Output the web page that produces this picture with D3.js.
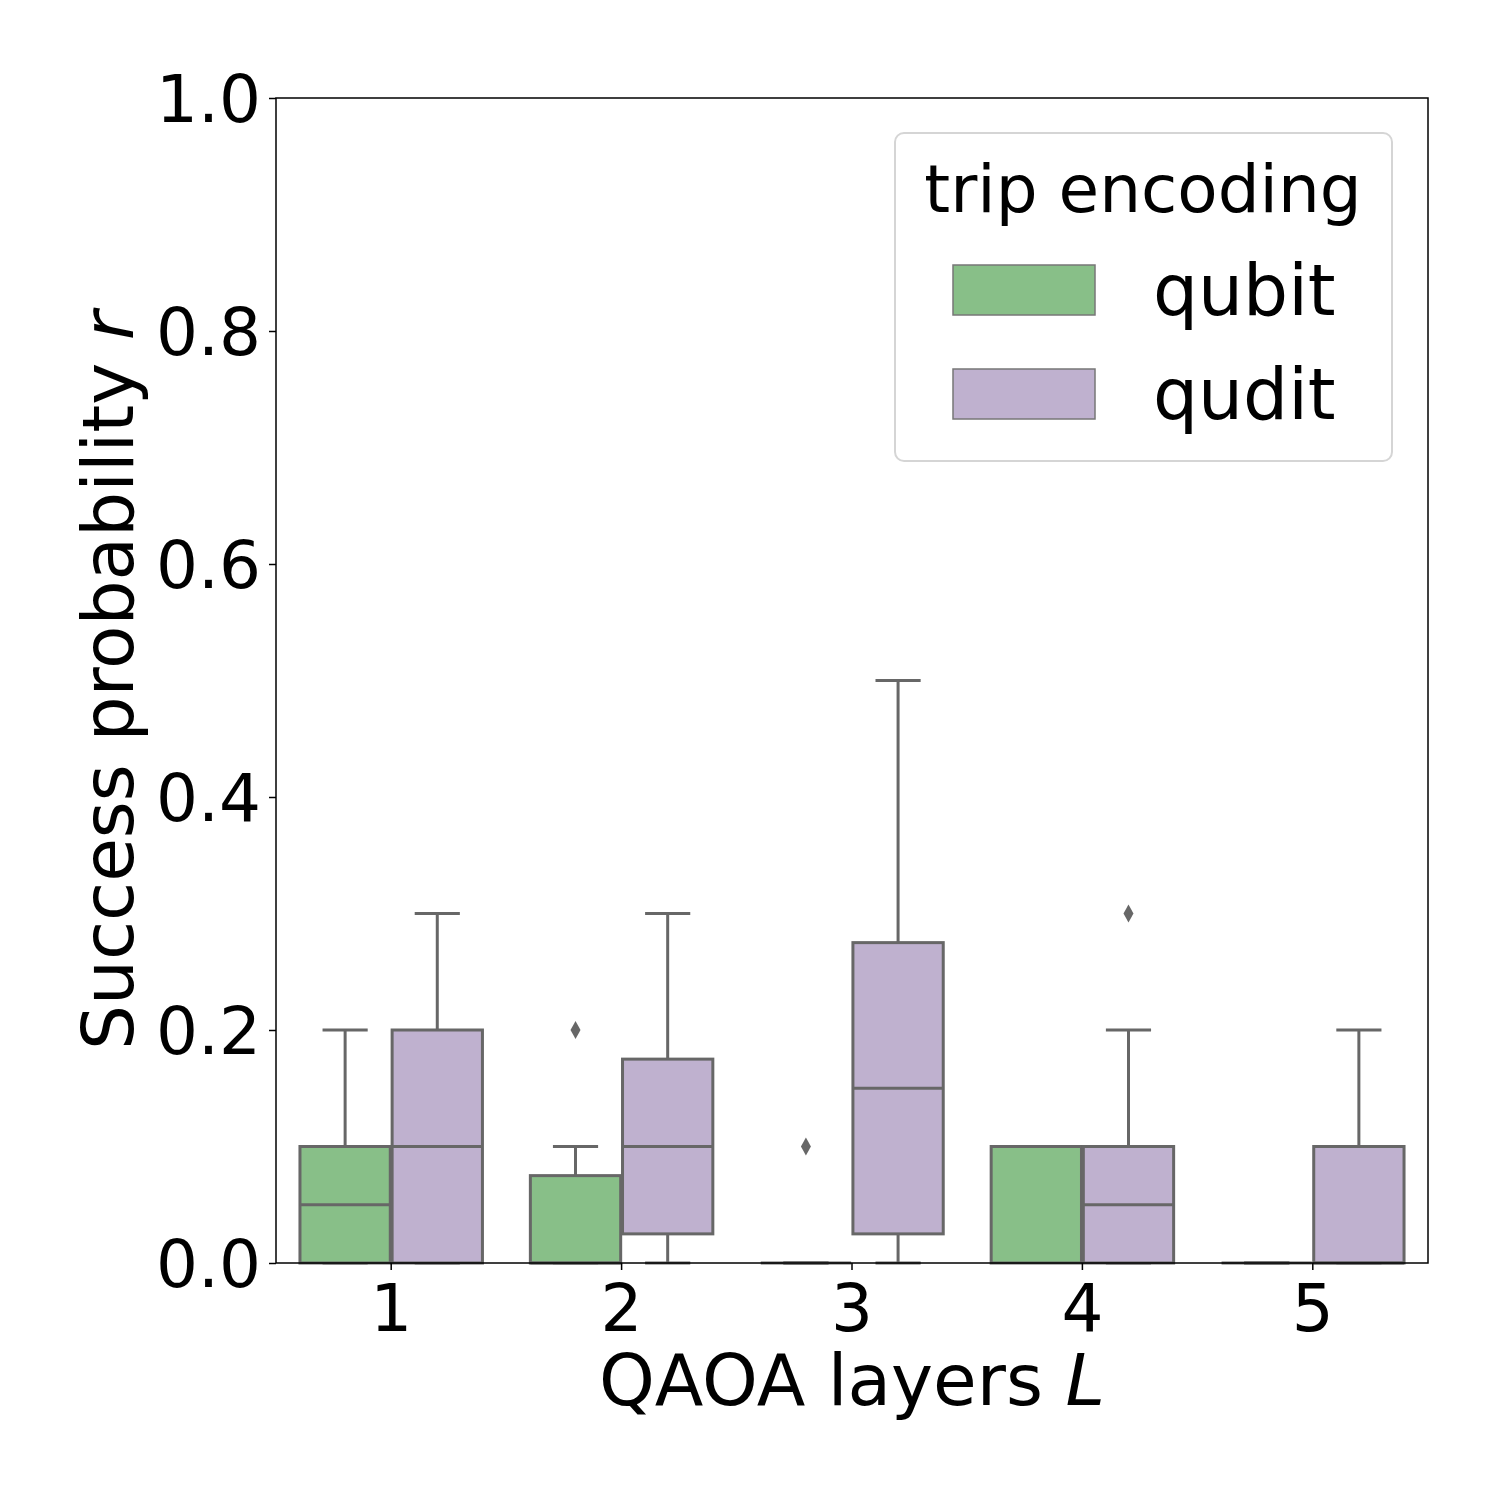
<!DOCTYPE html>
<html>
<head>
<meta charset="utf-8">
<script src="https://cdn.jsdelivr.net/npm/d3@7"></script>
<style>
  body { margin: 0; background: #fff; }
  text { font-family: "DejaVu Sans", sans-serif; fill: #000; }
</style>
</head>
<body>
<div id="chart"></div>
<script>
// box stats per layer: [low whisker, q1, median, q3, high whisker]
const layers = ["1", "2", "3", "4", "5"]
const encodings = ["qubit", "qudit"]
const qubitStats = [
    [0, 0, 0.05, 0.1, 0.2],
    [0, 0, 0, 0.075, 0.1],
    [0, 0, 0, 0, 0],
    [0.1, 0, 0.1, 0.1, 0.1],
    [0, 0, 0, 0, 0]
]
const quditStats = [
    [0, 0, 0.1, 0.2, 0.3],
    [0, 0.025, 0.1, 0.175, 0.3],
    [0, 0.025, 0.15, 0.275, 0.5],
    [0, 0, 0.05, 0.1, 0.2],
    [0, 0, 0, 0.1, 0.2]
]
// outliers: [layer, encoding, value]
const outliers = [
    ["2", "qubit", 0.2],
    ["3", "qubit", 0.1],
    ["4", "qudit", 0.3]
]
const yTicks = [0, 0.2, 0.4, 0.6, 0.8, 1.0]

const colors = { qubit: '#88bf88', qudit: '#bfb1cf' }
const lineColor = '#676767'

const W = 1500, H = 1500
const margins = {top: 98, right: 72, bottom: 237, left: 276}
const width = W - margins.left - margins.right
const height = H - margins.top - margins.bottom

const svg = d3.select('#chart').append('svg')
    .attr('width', W).attr('height', H)

const g = svg.append('g')
    .attr('transform', `translate(${margins.left},${margins.top})`)

const x = d3.scaleBand().domain(layers).range([0, width]).padding(0)
const hue = d3.scaleBand().domain(encodings).range([0, x.bandwidth() * 0.8])
const y = d3.scaleLinear().domain([0, 1]).range([height, 0])

const boxW = hue.bandwidth() * 0.98
const capW = boxW / 2

const rows = []
layers.forEach((l, i) => {
    rows.push({layer: l, enc: 'qubit', s: qubitStats[i]})
    rows.push({layer: l, enc: 'qudit', s: quditStats[i]})
})
const cx = d => x(d.layer) + x.bandwidth() * 0.1 + hue(d.enc) + hue.bandwidth() / 2

const boxes = g.selectAll('g.box').data(rows).join('g').attr('class', 'box')
    .attr('stroke', lineColor).attr('stroke-width', 3)

// whiskers
boxes.append('line')
    .attr('x1', cx).attr('x2', cx)
    .attr('y1', d => y(d.s[3])).attr('y2', d => y(d.s[4]))
boxes.append('line')
    .attr('x1', cx).attr('x2', cx)
    .attr('y1', d => y(d.s[1])).attr('y2', d => y(d.s[0]))
boxes.selectAll('line.cap').data(d => [[d, d.s[0]], [d, d.s[4]]]).join('line')
    .attr('class', 'cap')
    .attr('x1', d => cx(d[0]) - capW / 2).attr('x2', d => cx(d[0]) + capW / 2)
    .attr('y1', d => y(d[1])).attr('y2', d => y(d[1]))
// box
boxes.append('rect')
    .attr('x', d => cx(d) - boxW / 2).attr('width', boxW)
    .attr('y', d => y(d.s[3])).attr('height', d => y(d.s[1]) - y(d.s[3]))
    .attr('fill', d => colors[d.enc])
// median
boxes.append('line')
    .attr('x1', d => cx(d) - boxW / 2).attr('x2', d => cx(d) + boxW / 2)
    .attr('y1', d => y(d.s[2])).attr('y2', d => y(d.s[2]))

// outliers as diamonds
g.selectAll('path.flier').data(outliers).join('path')
    .attr('class', 'flier')
    .attr('d', 'M0,-9L5,0L0,9L-5,0Z')
    .attr('fill', lineColor)
    .attr('transform', d => `translate(${cx({layer: d[0], enc: d[1]})},${y(d[2])})`)

// axes
const xAxis = g.append('g').attr('transform', `translate(0,${height})`)
    .call(d3.axisBottom(x).tickSize(7).tickPadding(8))
const yAxis = g.append('g')
    .call(d3.axisLeft(y).tickValues(yTicks).tickFormat(d3.format('.1f')).tickSize(7).tickPadding(8))
;[xAxis, yAxis].forEach(a => {
    a.select('.domain').remove()
    a.selectAll('line').attr('stroke', '#000').attr('stroke-width', 1.5)
    a.selectAll('text').attr('font-size', 66).attr('font-family', 'DejaVu Sans').attr('fill', '#000')
})
xAxis.selectAll('text').attr('dy', '0.8em')
yAxis.selectAll('text').attr('dy', '0.36em')

g.append('rect').attr('width', width).attr('height', height)
    .attr('fill', 'none').attr('stroke', '#000').attr('stroke-width', 1.5)

// labels
const xl = svg.append('text')
    .attr('x', margins.left + width / 2).attr('y', 1405)
    .attr('text-anchor', 'middle').attr('font-size', 71)
xl.append('tspan').text('QAOA layers ')
xl.append('tspan').attr('font-style', 'italic').text('L')

const yl = svg.append('text')
    .attr('transform', `translate(133,${margins.top + height / 2}) rotate(-90)`)
    .attr('text-anchor', 'middle').attr('font-size', 71)
yl.append('tspan').text('Success probability ')
yl.append('tspan').attr('font-style', 'italic').text('r')

// legend
const lg = svg.append('g').attr('transform', 'translate(895,133)')
lg.append('rect').attr('width', 497).attr('height', 328).attr('rx', 9)
    .attr('fill', '#fff').attr('fill-opacity', 0.8)
    .attr('stroke', '#d5d5d5').attr('stroke-width', 2)
lg.append('text').attr('x', 248).attr('y', 79)
    .attr('text-anchor', 'middle').attr('font-size', 66).text('trip encoding')
encodings.forEach((e, i) => {
    lg.append('rect').attr('x', 58).attr('y', 132 + i * 104)
        .attr('width', 142).attr('height', 50)
        .attr('fill', colors[e]).attr('stroke', '#777').attr('stroke-width', 1.5)
    lg.append('text').attr('x', 258).attr('y', 182 + i * 104)
        .attr('font-size', 71).text(e)
})
</script>
</body>
</html>
